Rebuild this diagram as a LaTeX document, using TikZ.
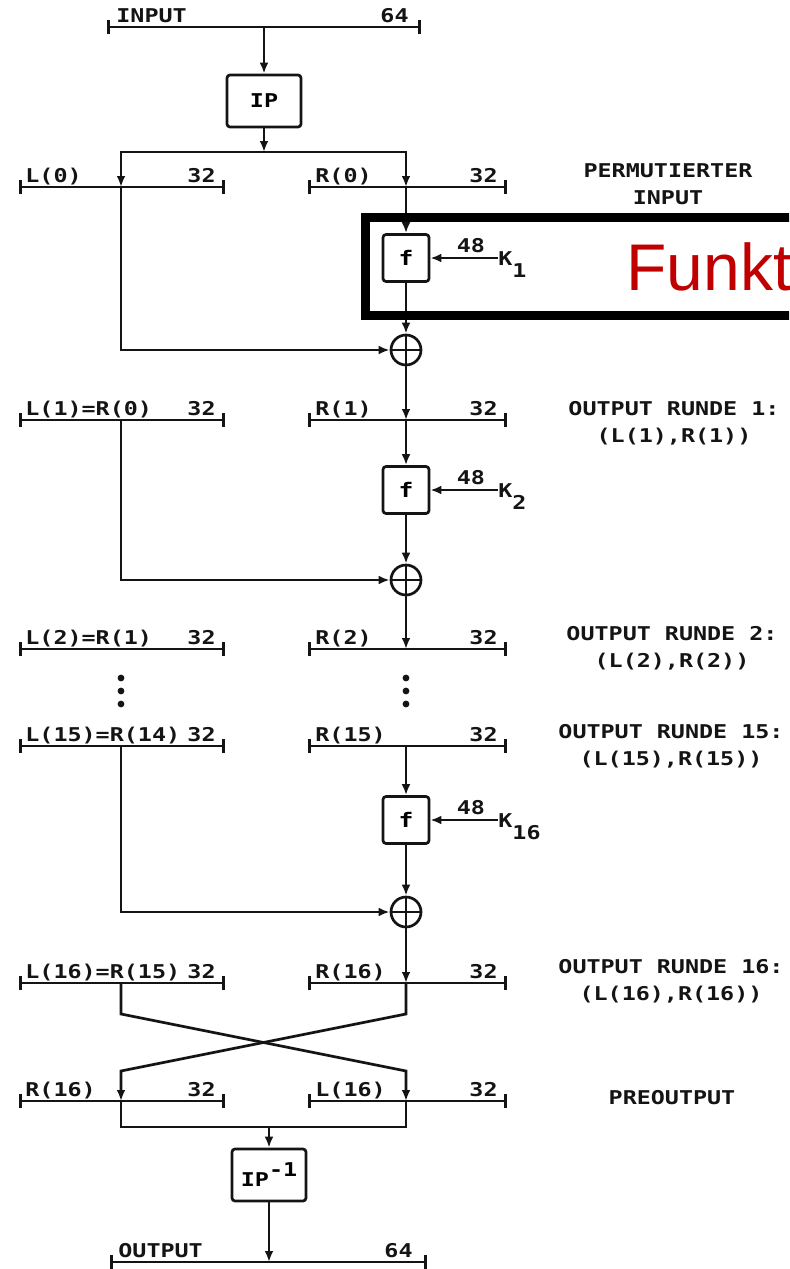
\documentclass[tikz,border=0pt]{standalone}
\usepackage{fontspec}
\usepackage{xcolor}
\usepackage{tikz}
\usetikzlibrary{arrows.meta,positioning,calc}
\newfontfamily\lettering[FakeStretch=1.23]{DejaVu Sans Mono}
\newfontfamily\slidefont{Liberation Sans}
\definecolor{ink}{HTML}{141414}
\definecolor{slidered}{HTML}{C00000}
\tikzset{
  bus/.style={draw=ink, line width=1.35pt, {Bar[width=7pt]}-{Bar[width=7pt]}},
  buslabel/.style={font=\lettering\bfseries\fontsize{9.5pt}{10pt}\selectfont,
    text=ink, inner sep=0pt},
  sig/.style={draw=ink, line width=1.35pt, -{Latex[length=5.5pt,width=4.4pt]}},
  wire/.style={draw=ink, line width=1.35pt},
  permbox/.style={rectangle, draw=ink, line width=1.35pt, rounded corners=1.5pt,
    minimum width=37pt, minimum height=26pt, inner sep=0pt,
    font=\lettering\bfseries\fontsize{9.5pt}{10pt}\selectfont},
  fbox/.style={rectangle, draw=ink, line width=1.35pt, rounded corners=1.5pt,
    minimum width=23pt, minimum height=23.5pt, inner sep=0pt,
    font=\lettering\bfseries\fontsize{10pt}{10pt}\selectfont},
  xorc/.style={circle, draw=ink, line width=1.35pt, minimum size=15pt, inner sep=0pt,
    path picture={\draw[ink, line width=1.2pt]
      (path picture bounding box.north) -- (path picture bounding box.south)
      (path picture bounding box.west) -- (path picture bounding box.east);}},
  keylabel/.style={font=\lettering\bfseries\fontsize{9.5pt}{10pt}\selectfont,
    text=ink, inner sep=0pt},
  note/.style={font=\lettering\bfseries\fontsize{9.5pt}{13.5pt}\selectfont,
    text=ink, align=center},
  redframe/.style={draw=black, line width=4.5pt},
}

\begin{document}
\begin{tikzpicture}[x=0.5pt, y=-0.5pt]
  \useasboundingbox (0,0) rectangle (789,1269);
  \clip (0,0) rectangle (789,1269);
  % input and initial permutation
  \draw[bus] (107,27) -- (421,27);
  \node[buslabel, anchor=base west] (inlbl) at (116,22) {INPUT};
  \node[buslabel, anchor=base east] (inbits) at (409,22) {64};
  \coordinate (inp) at (264,27);
  \node[permbox] (ip) at (264,101) {IP};
  \draw[sig] (inp) -- (ip);
  \coordinate (spl) at (264,152);
  \draw[sig] (ip) -- (spl);
  % the halves of every round
  \foreach \n/\y/\ll/\rl in {0/187/L(0)/R(0), 1/420/L(1)=R(0)/R(1),
      2/649/L(2)=R(1)/R(2), 15/746/L(15)=R(14)/R(15),
      16/983/L(16)=R(15)/R(16), p/1101/R(16)/L(16)} {
    \draw[bus] (19,\y) -- (225,\y);
    \draw[bus] (308,\y) -- (507,\y);
    \node[buslabel, anchor=base west] (ll\n) at (25,{\y-5}) {\ll};
    \node[buslabel, anchor=base east] (lb\n) at (216,{\y-5}) {32};
    \node[buslabel, anchor=base west] (rl\n) at (315,{\y-5}) {\rl};
    \node[buslabel, anchor=base east] (rb\n) at (498,{\y-5}) {32};
    \coordinate (l\n) at (121,\y);
    \coordinate (r\n) at (406,\y);
  }
  \draw[sig] (spl) -| (l0);
  \draw[sig] (spl) -| (r0);
  % rounds 1, 2 and 16
  \foreach \i/\a/\b/\yf/\yx/\k in {1/0/1/258/350/1, 2/1/2/490/580/2,
      3/15/16/820/912/16} {
    \node[fbox] (f\i) at (406,\yf) {f};
    \node[xorc] (x\i) at (406,\yx) {};
    \node[keylabel, anchor=base west] (k\i) at (498,{\yf+7}) {K\raisebox{-6pt}{\k}};
    \draw[sig] (r\a) -- (f\i);
    \draw[sig] (k\i.west |- f\i) -- node[buslabel, above=2pt, pos=0.4] {48} (f\i);
    \draw[sig] (f\i) -- (x\i);
    \draw[sig] (l\a) |- (x\i);
    \draw[sig] (x\i) -- (r\b);
  }
  \foreach \yy in {678,691,704} {
    \fill[ink] (121,\yy) circle (1.7pt);
    \fill[ink] (406,\yy) circle (1.7pt);
  }
  % swap of the halves
  \coordinate (xa) at (0,1014);
  \coordinate (xb) at (0,1071);
  \draw[sig] (l16) -- (l16 |- xa) -- (rp |- xb) -- (rp);
  \draw[sig] (r16) -- (r16 |- xa) -- (lp |- xb) -- (lp);
  % final permutation
  \coordinate (jn) at (269,1127);
  \draw[wire] (lp) -- (lp |- jn) -- (rp |- jn) -- (rp);
  \node[permbox] (ipinv) at (269,1175) {IP\raisebox{5pt}{-1}};
  \draw[sig] (jn) -- (ipinv);
  \draw[bus] (110,1262) -- (427,1262);
  \node[buslabel, anchor=base west] (outlbl) at (118,1257) {OUTPUT};
  \node[buslabel, anchor=base east] (outbits) at (413,1257) {64};
  \coordinate (outp) at (269,1262);
  \draw[sig] (ipinv) -- (outp);
  % notes on the right
  \node[note] (n0) at (668,184) {PERMUTIERTER\\INPUT};
  \node[note] (n1) at (674,423) {OUTPUT RUNDE 1:\\(L(1),R(1))};
  \node[note] (n2) at (672,648) {OUTPUT RUNDE 2:\\(L(2),R(2))};
  \node[note] (n15) at (671,746) {OUTPUT RUNDE 15:\\(L(15),R(15))};
  \node[note] (n16) at (671,981) {OUTPUT RUNDE 16:\\(L(16),R(16))};
  \node[note] (np) at (672,1098) {PREOUTPUT};
  % highlight of the round function
  \draw[redframe] (365,217) rectangle (840,315);
  \node[font=\slidefont\fontsize{33pt}{36pt}\selectfont, text=slidered,
    anchor=base west, inner sep=0pt] (funkt) at (626,290) {Funkt};
\end{tikzpicture}
\end{document}
